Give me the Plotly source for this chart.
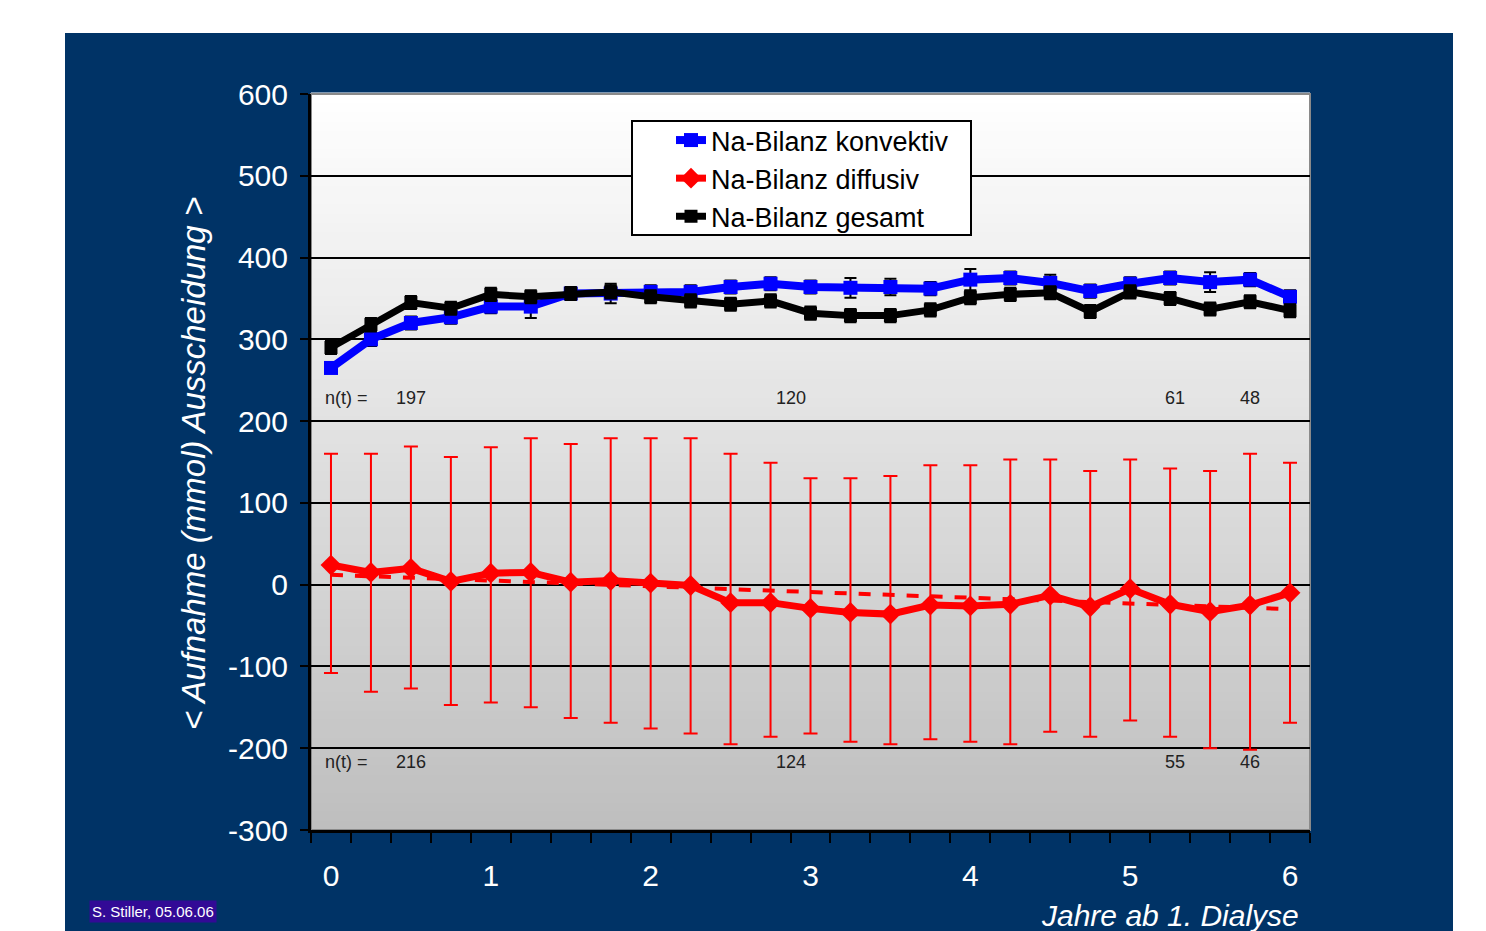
import plotly.graph_objects as go

# ---- data -------------------------------------------------------------
years = [0, 0.25, 0.5, 0.75, 1, 1.25, 1.5, 1.75, 2, 2.25, 2.5, 2.75, 3,
         3.25, 3.5, 3.75, 4, 4.25, 4.5, 4.75, 5, 5.25, 5.5, 5.75, 6]

konvektiv = [265, 300, 320, 327, 340, 340, 356, 356, 358, 358, 364, 368, 364,
             363, 364, 362, 373, 375, 369, 359, 368, 375, 370, 373, 352]
konvektiv_err = [6, 8, 8, 8, 8, 14, 8, 12, 8, 8, 8, 8, 8,
                 12, 10, 8, 13, 8, 10, 8, 8, 8, 12, 8, 8]

gesamt = [290, 318, 345, 338, 355, 352, 356, 358, 352, 347, 343, 347, 332,
          329, 329, 336, 351, 355, 357, 334, 358, 350, 337, 346, 335]
gesamt_err = [8, 8, 8, 8, 8, 8, 8, 8, 8, 8, 8, 8, 8,
              8, 8, 8, 8, 8, 8, 8, 8, 8, 8, 8, 8]

diffusiv = [24, 15, 20, 4, 14, 15, 3, 5, 2, -1, -22, -22, -29,
            -34, -36, -25, -26, -24, -13, -27, -5, -24, -33, -25, -10]
diffusiv_err_plus = [136, 145, 149, 152, 154, 164, 169, 174, 177, 180, 182, 171, 159,
                     164, 169, 171, 172, 177, 166, 166, 158, 166, 172, 185, 159]
diffusiv_err_minus = [132, 146, 147, 151, 158, 165, 166, 174, 178, 181, 173, 164, 153,
                      158, 159, 164, 166, 171, 167, 159, 161, 162, 167, 177, 159]

# linear trend of the diffusive balance
trend_x = [0, 6]
trend_y = [12, -30]

# patient counts n(t)
n_label = "n(t) ="
n_years = [0.5, 2.875, 5.28, 5.75]
n_konvektiv = ["197", "120", "61", "48"]
n_diffusiv = ["216", "124", "55", "46"]
n_row_konvektiv = 228
n_row_diffusiv = -217

y_ticks = [-300, -200, -100, 0, 100, 200, 300, 400, 500, 600]
y_ticktext = ["-300", "-200", "-100", "0", "100", "200", "300", "400", "500", "600"]
x_ticks = [0, 1, 2, 3, 4, 5, 6]

# ---- geometry ---------------------------------------------------------
W, H = 1486, 931
ML, MR, MT, MB = 311, 176, 94, 101
PW, PH = W - ML - MR, H - MT - MB
FONT = "Liberation Sans, Arial, sans-serif"


def px_x(X):
    return (X - ML) / PW


def px_y(Y):
    return (H - MB - Y) / PH


fig = go.Figure()

fig.add_trace(go.Scatter(
    x=years, y=konvektiv, name="Na-Bilanz konvektiv", legendgroup="k",
    mode="lines+markers",
    line=dict(color="#0000ff", width=8),
    marker=dict(symbol="square", size=14, color="#0000ff"),
    error_y=dict(type="data", array=konvektiv_err, color="#000000",
                 thickness=2, width=6),
))

fig.add_trace(go.Scatter(
    x=years, y=diffusiv, name="Na-Bilanz diffusiv", legendgroup="d",
    mode="lines+markers",
    line=dict(color="#ff0000", width=7),
    marker=dict(symbol="diamond", size=16, color="#ff0000"),
    error_y=dict(type="data", array=diffusiv_err_plus,
                 arrayminus=diffusiv_err_minus, color="#ff0000",
                 thickness=2, width=7),
))

fig.add_trace(go.Scatter(
    x=trend_x, y=trend_y, mode="lines", showlegend=False, hoverinfo="skip",
    line=dict(color="#ff0000", width=4, dash="dash"),
))

fig.add_trace(go.Scatter(
    x=years, y=gesamt, name="Na-Bilanz gesamt", legendgroup="g",
    mode="lines+markers",
    line=dict(color="#000000", width=7),
    marker=dict(symbol="square", size=13, color="#000000"),
    error_y=dict(type="data", array=gesamt_err, color="#000000",
                 thickness=2, width=6),
))

# ---- background: dark panel, gradient plot area, frame ----------------
shapes = [dict(type="rect", xref="paper", yref="paper",
               x0=px_x(65), x1=px_x(1453), y0=px_y(H + 5), y1=px_y(33),
               fillcolor="#003366", line=dict(width=0), layer="below")]

n_bands = 80
top_c, bot_c = (255, 255, 255), (190, 190, 190)
for i in range(n_bands):
    t = (i + 0.5) / n_bands  # 0 at bottom, 1 at top
    c = [round(bot_c[k] + (top_c[k] - bot_c[k]) * t) for k in range(3)]
    shapes.append(dict(type="rect", xref="paper", yref="paper",
                       x0=0, x1=1, y0=i / n_bands, y1=(i + 1) / n_bands + 0.002,
                       fillcolor=f"rgb({c[0]},{c[1]},{c[2]})",
                       line=dict(width=0), layer="below"))

shapes.append(dict(type="rect", xref="paper", yref="paper",
                   x0=0, x1=1, y0=0, y1=1,
                   line=dict(color="#8a8a8a", width=2),
                   fillcolor="rgba(0,0,0,0)", layer="below"))

# legend frame
shapes.append(dict(type="rect", xref="paper", yref="paper",
                   x0=px_x(632), x1=px_x(971), y0=px_y(235), y1=px_y(121),
                   fillcolor="#ffffff", line=dict(color="#000000", width=2),
                   layer="above"))

# ---- annotations ------------------------------------------------------
ann = []
nfont = dict(family=FONT, size=18, color="#222222")
for row, vals in ((n_row_konvektiv, n_konvektiv), (n_row_diffusiv, n_diffusiv)):
    ann.append(dict(x=-0.05, y=row, xref="x", yref="y", text=n_label,
                    showarrow=False, xanchor="left", yanchor="middle", font=nfont))
    for xv, txt in zip(n_years, vals):
        ann.append(dict(x=xv, y=row, xref="x", yref="y", text=txt,
                        showarrow=False, xanchor="center", yanchor="middle",
                        font=nfont))

ann.append(dict(x=px_x(193), y=px_y(464), xref="paper", yref="paper",
                text="<i>&lt; Aufnahme (mmol) Ausscheidung &gt;</i>",
                textangle=-90, showarrow=False, xanchor="center", yanchor="middle",
                font=dict(family=FONT, size=33, color="#ffffff")))

ann.append(dict(x=px_x(1301), y=px_y(915), xref="paper", yref="paper",
                text="<i>Jahre ab 1. Dialyse</i>", showarrow=False,
                xanchor="right", yanchor="middle",
                font=dict(family=FONT, size=30, color="#ffffff")))

ann.append(dict(x=px_x(89), y=px_y(911), xref="paper", yref="paper",
                text="S. Stiller, 05.06.06", showarrow=False,
                xanchor="left", yanchor="middle", bgcolor="#320a96",
                borderpad=2,
                font=dict(family=FONT, size=15, color="#ffffff")))

# ---- layout -----------------------------------------------------------
fig.update_layout(
    width=W, height=H,
    margin=dict(l=ML, r=MR, t=MT, b=MB, pad=0),
    paper_bgcolor="#ffffff",
    plot_bgcolor="rgba(0,0,0,0)",
    font=dict(family=FONT),
    shapes=shapes,
    annotations=ann,
    showlegend=True,
    legend=dict(x=px_x(671), y=px_y(116), xanchor="left", yanchor="top",
                bgcolor="rgba(0,0,0,0)", borderwidth=0,
                font=dict(family=FONT, size=27, color="#000000"),
                tracegroupgap=0, traceorder="grouped"),
    xaxis=dict(
        range=[-0.125, 6.125],
        tickmode="array", tickvals=x_ticks, ticktext=[str(v) for v in x_ticks],
        ticks="", showgrid=False, zeroline=False,
        showline=True, linecolor="#000000", linewidth=3,
        tickfont=dict(family=FONT, size=30, color="#ffffff"),
        ticklabelstandoff=17,
        minor=dict(ticks="outside", tick0=0.125, dtick=0.25, ticklen=10,
                   tickwidth=2, tickcolor="#000000", showgrid=False),
    ),
    yaxis=dict(
        range=[-300, 600],
        tickmode="array", tickvals=y_ticks, ticktext=y_ticktext,
        ticks="outside", ticklen=8, tickwidth=2, tickcolor="#000000",
        showgrid=True, gridcolor="#000000", gridwidth=2,
        zeroline=False,
        showline=True, linecolor="#000000", linewidth=3,
        tickfont=dict(family=FONT, size=30, color="#ffffff"),
        ticklabelstandoff=6,
    ),
)

fig.write_html("out.html")
